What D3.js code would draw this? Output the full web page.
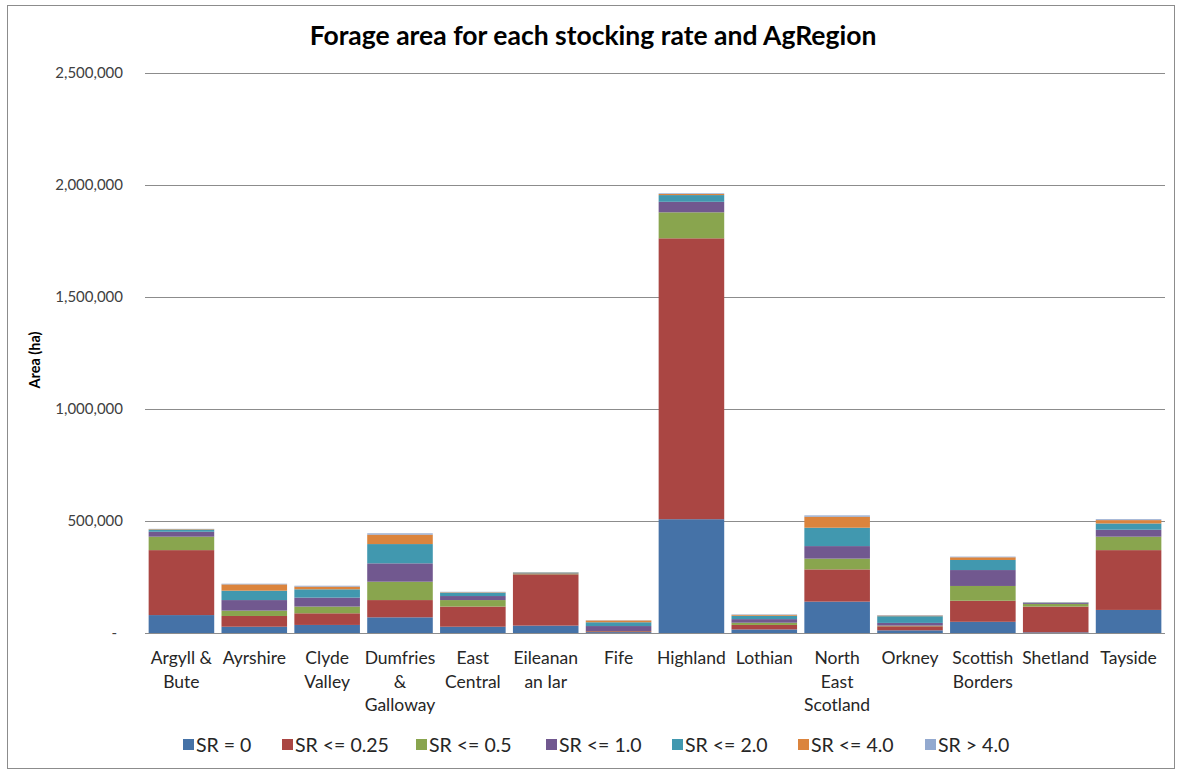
<!DOCTYPE html>
<html>
<head>
<meta charset="utf-8">
<script src="https://cdn.jsdelivr.net/npm/d3@7"></script>
<style>
  body { margin: 0; background: #fff; }
  svg { display: block; font-family: Lato, "Open Sans", sans-serif; }
</style>
</head>
<body>
<svg id="chart" width="1178" height="771"></svg>
<script>
// ---- Data ----
const categories = ["Argyll & Bute", "Ayrshire", "Clyde Valley", "Dumfries & Galloway", "East Central",
  "Eileanan an Iar", "Fife", "Highland", "Lothian", "North East Scotland", "Orkney",
  "Scottish Borders", "Shetland", "Tayside"];
const categoryLines = [["Argyll &", "Bute"], ["Ayrshire"], ["Clyde", "Valley"], ["Dumfries", "&", "Galloway"],
  ["East", "Central"], ["Eileanan", "an Iar"], ["Fife"], ["Highland"], ["Lothian"],
  ["North", "East", "Scotland"], ["Orkney"], ["Scottish", "Borders"], ["Shetland"], ["Tayside"]];
const seriesNames = ["SR = 0", "SR <= 0.25", "SR <= 0.5", "SR <= 1.0", "SR <= 2.0", "SR <= 4.0", "SR > 4.0"];
// values in hectares, per category (same order as categories)
const sr0    = [80000, 28000, 36000, 70000, 28000, 33000, 4000, 508000, 16000, 140000, 12000, 50000, 3000, 103000];
const sr025  = [290000, 48000, 52000, 77000, 90000, 229000, 4000, 1254000, 20000, 144000, 18000, 94000, 115000, 267000];
const sr05   = [60000, 24000, 30000, 82000, 29000, 4000, 1000, 116000, 10000, 48000, 3000, 66000, 12000, 60000];
const sr10   = [22000, 47000, 40000, 82000, 18000, 2000, 22000, 47000, 16000, 56000, 12000, 71000, 4000, 31000];
const sr20   = [10000, 42000, 37000, 86000, 15000, 2000, 17000, 30000, 15000, 82000, 30000, 45000, 2000, 28000];
const sr40   = [2000, 28000, 12000, 42000, 2000, 1000, 8000, 5000, 4000, 49000, 3000, 12000, 1000, 15000];
const srOver = [1000, 3000, 4000, 6000, 2000, 500, 1000, 3000, 2000, 6000, 2000, 3000, 1000, 4000];
const seriesValues = [sr0, sr025, sr05, sr10, sr20, sr40, srOver];
const colors = ["#4572A7", "#AA4643", "#89A54E", "#71588F", "#4198AF", "#DB843D", "#93A9CF"];
const yTicks = [0, 500000, 1000000, 1500000, 2000000, 2500000];

// ---- Layout ----
const svg = d3.select("#chart");
const W = 1178, H = 771;
const plot = { left: 145, right: 1165, top: 73, bottom: 633 };

svg.append("rect").attr("x", 7.5).attr("y", 5.5).attr("width", W - 11).attr("height", H - 8)
  .attr("fill", "#fff").attr("stroke", "#8c8c8c").attr("stroke-width", 1);

const x = d3.scaleBand().domain(categories).range([plot.left, plot.right]).paddingInner(0.1).paddingOuter(0.05);
const y = d3.scaleLinear().domain([0, 2500000]).range([plot.bottom, plot.top]);

// gridlines
svg.append("g").selectAll("line").data(yTicks.filter(d => d > 0)).join("line")
  .attr("x1", plot.left).attr("x2", plot.right)
  .attr("y1", d => Math.round(y(d)) + 0.5).attr("y2", d => Math.round(y(d)) + 0.5)
  .attr("stroke", "#8c8c8c").attr("stroke-width", 1);

// y axis labels
const fmt = d3.format(",");
const yAxis = d3.axisLeft(y).tickValues(yTicks).tickSize(0).tickPadding(0)
  .tickFormat(d => d === 0 ? "-" : fmt(d));
const yg = svg.append("g").attr("transform", `translate(${plot.left - 22},0)`).call(yAxis);
yg.select(".domain").remove();
yg.selectAll("text").attr("font-size", 15).attr("fill", "#404040")
  .attr("font-family", "Lato, sans-serif");
yg.selectAll(".tick").filter(d => d === 0).select("text").attr("dx", -6);

// stacked bars
const rows = categories.map((c, i) => {
  const r = { cat: c };
  seriesNames.forEach((s, j) => { r[s] = seriesValues[j][i]; });
  return r;
});
const stack = d3.stack().keys(seriesNames);
const stacked = stack(rows);
svg.append("g").selectAll("g").data(stacked).join("g")
  .attr("fill", (d, i) => colors[i])
  .selectAll("rect").data(d => d).join("rect")
  .attr("x", d => x(d.data.cat))
  .attr("width", x.bandwidth())
  .attr("y", d => y(d[1]))
  .attr("height", d => Math.max(0, y(d[0]) - y(d[1])));

// x axis baseline
svg.append("line").attr("x1", plot.left).attr("x2", plot.right)
  .attr("y1", plot.bottom + 0.5).attr("y2", plot.bottom + 0.5)
  .attr("stroke", "#8c8c8c").attr("stroke-width", 1);

// x labels
const xl = svg.append("g");
categories.forEach((c, i) => {
  const t = xl.append("text").attr("x", x(c) + x.bandwidth() / 2).attr("y", 664)
    .attr("text-anchor", "middle").attr("font-size", 17.5).attr("fill", "#262626");
  categoryLines[i].forEach((ln, k) => {
    t.append("tspan").attr("x", x(c) + x.bandwidth() / 2).attr("dy", k === 0 ? 0 : 23.5).text(ln);
  });
});

// y title
svg.append("text").attr("transform", "translate(40,360) rotate(-90)")
  .attr("text-anchor", "middle").attr("font-size", 14.5).attr("font-weight", "bold")
  .attr("fill", "#000").text("Area (ha)");

// title
svg.append("text").attr("x", 593).attr("y", 45).attr("text-anchor", "middle")
  .attr("font-size", 26.5).attr("font-weight", "bold").attr("fill", "#000")
  .text("Forage area for each stocking rate and AgRegion");

// legend
const legendX = [183, 282, 416, 546, 672, 798, 925];
const lg = svg.append("g");
seriesNames.forEach((s, i) => {
  lg.append("rect").attr("x", legendX[i]).attr("y", 739).attr("width", 11).attr("height", 11)
    .attr("fill", colors[i]);
  lg.append("text").attr("x", legendX[i] + 13).attr("y", 751.5).attr("font-size", 19.5)
    .attr("fill", "#262626").text(s);
});
</script>
</body>
</html>
